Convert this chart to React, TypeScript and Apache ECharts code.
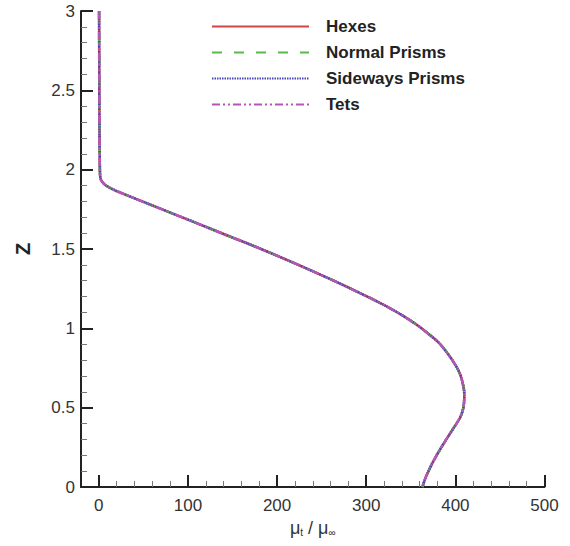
import React, { useEffect, useRef } from "react";
import * as echarts from "echarts";

// Height levels Z (shared profile points)
const zLevels = [
  3.0, 2.6, 2.2, 2.0, 1.95, 1.925, 1.9, 1.87, 1.84, 1.75, 1.665, 1.59, 1.53,
  1.441, 1.345, 1.252, 1.147, 1.08, 1.021, 0.96, 0.906, 0.821, 0.75, 0.7,
  0.62, 0.57, 0.5, 0.44, 0.38, 0.275, 0.17, 0.09, 0.05, 0.0,
];
// mu_t / mu_inf for each mesh type (curves coincide in the figure)
const muHexes = [
  0.3, 0.5, 0.8, 1.2, 1.7, 3.5, 8, 18, 31, 71, 109, 142, 169, 207, 246, 282,
  320, 341, 357, 371, 382, 394, 402, 406, 409.5, 410, 409, 405.5, 399, 387,
  376, 369, 366, 363,
];
const muNormalPrisms = [
  0.3, 0.5, 0.8, 1.2, 1.7, 3.5, 8, 18, 31, 71, 109, 142, 169, 207, 246, 282,
  320, 341, 357, 371, 382, 394, 402, 406, 409.5, 410, 409, 405.5, 399, 387,
  376, 369, 366, 363,
];
const muSidewaysPrisms = [
  0.3, 0.5, 0.8, 1.2, 1.7, 3.5, 8, 18, 31, 71, 109, 142, 169, 207, 246, 282,
  320, 341, 357, 371, 382, 394, 402, 406, 409.5, 410, 409, 405.5, 399, 387,
  376, 369, 366, 363,
];
const muTets = [
  0.3, 0.5, 0.8, 1.2, 1.7, 3.5, 8, 18, 31, 71, 109, 142, 169, 207, 246, 282,
  320, 341, 357, 371, 382, 394, 402, 406, 409.5, 410, 409, 405.5, 399, 387,
  376, 369, 366, 363,
];

const seriesNames = ["Hexes", "Normal Prisms", "Sideways Prisms", "Tets"];
const xMajorTicks = [0, 100, 200, 300, 400, 500];
const xMinorTicks = [
  20, 40, 60, 80, 120, 140, 160, 180, 220, 240, 260, 280, 320, 340, 360, 380,
  420, 440, 460, 480,
];

const FONT = "'Liberation Sans', Arial, Helvetica, sans-serif";

function pairs(xs: number[]) {
  return xs.map((x, i) => [x, zLevels[i]]);
}

export default function App() {
  const ref = useRef<HTMLDivElement>(null);
  useEffect(() => {
    if (!ref.current) return;
    const chart = echarts.init(ref.current, null, { renderer: "svg" });
    const styles = [
      { color: "#cf4646", type: "solid" as any, width: 2.5 },
      { color: "#5cb84c", type: [10, 12] as any, width: 2.5 },
      { color: "#4646b8", type: [1.5, 1] as any, width: 2.5 },
      { color: "#b556b5", type: [8, 3, 2, 3, 2, 3] as any, width: 2.5 },
    ];
    const datasets = [muHexes, muNormalPrisms, muSidewaysPrisms, muTets];
    chart.setOption({
      animation: false,
      textStyle: { fontFamily: FONT },
      grid: {
        left: 81,
        right: 25.5,
        top: 11,
        bottom: 59,
        containLabel: false,
        outerBoundsMode: "none",
      },
      legend: {
        orient: "vertical",
        left: 211,
        top: 18,
        padding: 0,
        itemWidth: 97,
        itemHeight: 14,
        itemGap: 9,
        data: seriesNames,
        itemStyle: { opacity: 0, borderWidth: 0 },
        textStyle: {
          fontFamily: FONT,
          fontSize: 17,
          fontWeight: "bold",
          color: "#222",
          lineHeight: 17,
          padding: [0, 0, 0, 12],
        },
      },
      xAxis: [
        {
          type: "value",
          min: -20,
          max: 500,
          position: "bottom",
          name: "{m|μ}{s|t}{m| / μ}{s|∞}",
          nameLocation: "middle",
          nameGap: 32,
          nameTextStyle: {
            rich: {
              m: { fontSize: 18, color: "#333", fontFamily: FONT },
              s: {
                fontSize: 10,
                color: "#333",
                fontFamily: FONT,
                padding: [8, 0, 0, 0],
              },
            },
          },
          axisLine: { show: true, onZero: false, lineStyle: { color: "#222", width: 2 } },
          axisTick: {
            show: true,
            inside: true,
            length: 12,
            customValues: xMajorTicks,
            lineStyle: { color: "#222", width: 2 },
          },
          axisLabel: {
            customValues: xMajorTicks,
            margin: 10,
            fontSize: 17,
            color: "#333",
            fontFamily: FONT,
          },
          splitLine: { show: false },
        },
        {
          type: "value",
          min: -20,
          max: 500,
          position: "bottom",
          axisLine: { show: false },
          axisLabel: { show: false },
          axisTick: {
            show: true,
            inside: true,
            length: 6,
            customValues: xMinorTicks,
            lineStyle: { color: "#777", width: 1 },
          },
          splitLine: { show: false },
        },
      ],
      yAxis: {
        type: "value",
        min: 0,
        max: 3,
        interval: 0.5,
        name: "Z",
        nameLocation: "middle",
        nameGap: 48,
        nameTextStyle: { fontSize: 20, fontWeight: "bold", color: "#222", fontFamily: FONT },
        axisLine: { show: true, onZero: false, lineStyle: { color: "#222", width: 2 } },
        axisTick: { show: true, inside: true, length: 12, lineStyle: { color: "#222", width: 2 } },
        minorTick: { show: true, splitNumber: 5, length: 6, lineStyle: { color: "#777", width: 1 } },
        axisLabel: { margin: 6, fontSize: 17, color: "#333", fontFamily: FONT },
        splitLine: { show: false },
        minorSplitLine: { show: false },
      },
      series: seriesNames.map((name, i) => ({
        name,
        type: "line",
        xAxisIndex: 0,
        data: pairs(datasets[i]),
        symbol: "none",
        smooth: 0.3,
        color: styles[i].color,
        lineStyle: styles[i],
        z: 2 + i,
      })),
    });
    return () => chart.dispose();
  }, []);
  return (
    <div
      ref={ref}
      style={{ position: "fixed", left: 0, top: 0, width: 570, height: 546, background: "#fff" }}
    />
  );
}
